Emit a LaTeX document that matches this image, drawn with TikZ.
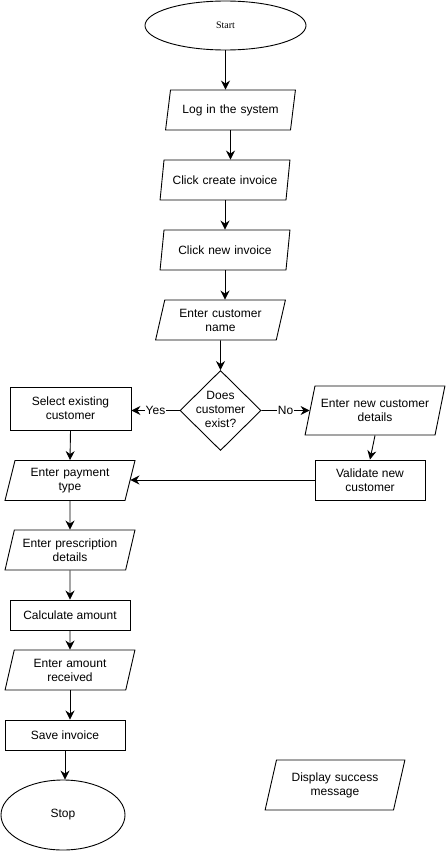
\documentclass[tikz,border=0pt]{standalone}
\usepackage{fontspec}
\setmainfont{Liberation Sans}
\newfontfamily\startfont{Liberation Serif}
\usetikzlibrary{shapes.geometric,arrows.meta}
\tikzset{
	terminal/.style={draw, ellipse, inner sep=0pt},
	io/.style={draw, trapezium, trapezium left angle=68, trapezium right angle=112,
		trapezium stretches=true, minimum width=130, minimum height=40,
		inner sep=0pt, align=center, text width=110},
	process/.style={draw, rectangle, inner sep=0pt, align=center},
	decision/.style={draw, diamond, minimum width=81, minimum height=80, inner sep=0pt},
	flow/.style={-{Stealth[length=9pt,width=9pt,inset=3pt]}},
	branch/.style={fill=white, inner sep=1pt}
}
\begin{document}
\begin{tikzpicture}[x=1pt, y=-1pt, line width=0.9pt, font=\fontsize{12}{14}\selectfont]
	\useasboundingbox (0,0) rectangle (446,851);
	% main column
	\node[terminal, minimum width=161, minimum height=49, font=\startfont\fontsize{10}{12}\selectfont] (start) at (225.5,25.5) {Start};
	\node[io] (login) at (230.5,110) {Log in the system};
	\node[io] (create) at (225,180) {Click create invoice};
	\node[io] (newinv) at (225,250) {Click new invoice};
	\node[io] (custname) at (220.5,320) {Enter customer\\name};
	\node[decision, label=center:{\begin{tabular}{@{}c@{}}Does\\customer\\exist?\end{tabular}}] (exist) at (220.5,410.5) {};
	% yes branch
	\node[process, minimum width=121, minimum height=43] (select) at (70.5,408.5) {Select existing\\customer};
	\node[io] (payment) at (70,480.5) {Enter payment\\type};
	\node[io] (prescr) at (70,550) {Enter prescription\\details};
	\node[process, minimum width=120, minimum height=30] (calc) at (70,615) {Calculate amount};
	\node[io] (amount) at (70,670) {Enter amount\\received};
	\node[process, minimum width=120, minimum height=30] (save) at (65,735) {Save invoice};
	\node[terminal, minimum width=124, minimum height=70] (stop) at (63,815) {Stop};
	% no branch
	\node[io, minimum width=140, minimum height=49] (newdet) at (375,410.5) {Enter new customer\\details};
	\node[process, minimum width=110, minimum height=40] (validate) at (370,480) {Validate new\\customer};
	\node[io, minimum width=140, minimum height=50, trapezium left angle=67, trapezium right angle=113] (display) at (335,785) {Display success\\message};
	% connectors
	\draw[flow] (start.south) -- (start.south |- login.north);
	\draw[flow] (login.south) -- (login.south |- create.north);
	\draw[flow] (create.south) -- (create.south |- newinv.north);
	\draw[flow] (newinv.south) -- (newinv.south |- custname.north);
	\draw[flow] (custname.south) -- (exist.north);
	\draw[flow] (exist.west) -- (exist.west -| select.east) node[branch, midway] {Yes};
	\draw[flow] (exist.east) -- (newdet.west) node[branch, midway] {No};
	\draw[flow] (newdet.south) -- (validate.north);
	\draw[flow] (validate.west) -- (validate.west -| payment.east);
	\draw[flow] (select.south) -- (payment.north);
	\draw[flow] (payment.south) -- (prescr.north);
	\draw[flow] (prescr.south) -- (calc.north);
	\draw[flow] (calc.south) -- (amount.north);
	\draw[flow] (amount.south) -- (amount.south |- save.north);
	\draw[flow] (save.south) -- (save.south |- stop.north);
\end{tikzpicture}
\end{document}
